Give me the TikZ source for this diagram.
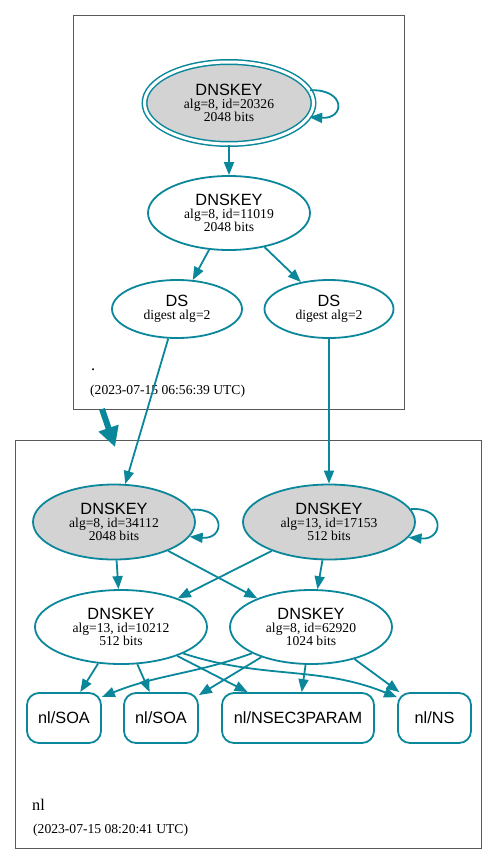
\documentclass[tikz,border=0pt]{standalone}
\usepackage{fontspec}
\setmainfont{Liberation Serif}
\setsansfont{Liberation Sans}
\usetikzlibrary{shapes.geometric,arrows.meta}

\definecolor{dnsteal}{HTML}{0A879A}
\definecolor{keygray}{HTML}{D3D3D3}
\newcommand{\keytitle}[1]{{\sffamily\fontsize{16.3}{13}\selectfont #1}}

\tikzset{
	keynode/.style={ellipse,draw=dnsteal,line width=1.8pt,inner sep=0pt,align=center,font=\fontsize{13.6}{13}\selectfont},
	sepkey/.style={fill=keygray},
	rrnode/.style={rectangle,rounded corners=12pt,draw=dnsteal,line width=1.8pt,inner sep=0pt,minimum height=50pt,font=\sffamily\fontsize{16.3}{18}\selectfont},
	edge/.style={draw=dnsteal,line width=1.8pt,-{Triangle[length=13pt,width=10pt]}},
	delegation/.style={draw=dnsteal,line width=6pt,-{Triangle[length=20pt,width=20pt]}},
	cluster/.style={draw=black!65,line width=1pt},
	zonelabel/.style={anchor=base west,inner sep=0pt,font=\fontsize{16.3}{18}\selectfont},
	zonedate/.style={anchor=base west,inner sep=0pt,font=\fontsize{13.6}{16}\selectfont}
}

\begin{document}
\begin{tikzpicture}[x=1pt,y=-1pt]
	\useasboundingbox (0,0) rectangle (497,865);

	%zone boxes
	\draw[cluster] (73,15) rectangle (404,409); %root zone
	\draw[cluster] (15,440) rectangle (481,848); %nl zone

	%root zone-----------------------------------------------
	\node[keynode,sepkey,double=white,line width=1.5pt,double distance=3pt,minimum width=169pt,minimum height=82pt] (k20326) at (229,103) {\keytitle{DNSKEY}\\alg=8, id=20326\\2048 bits}; %KSK
	\node[keynode,minimum width=162pt,minimum height=74pt] (k11019) at (229,213) {\keytitle{DNSKEY}\\alg=8, id=11019\\2048 bits}; %ZSK
	\node[keynode,minimum width=130pt,minimum height=58pt] (ds1) at (177,309) {\keytitle{DS}\\digest alg=2}; %DS 1
	\node[keynode,minimum width=129pt,minimum height=58pt] (ds2) at (329,309) {\keytitle{DS}\\digest alg=2}; %DS 2
	\node[zonelabel] (rootname) at (91,370) {.}; %zone name
	\node[zonedate] (rootdate) at (90,394) {(2023-07-15 06:56:39 UTC)}; %zone date

	\draw[edge] (k20326.9) .. controls +(36,-1) and +(36,2) .. (k20326.-10); %self loop
	\draw[edge] (k20326) -- (k11019);
	\draw[edge] (k11019) -- (ds1);
	\draw[edge] (k11019) -- (ds2);

	%nl zone-------------------------------------------------
	\node[keynode,sepkey,minimum width=162pt,minimum height=75pt] (k34112) at (114,522) {\keytitle{DNSKEY}\\alg=8, id=34112\\2048 bits}; %KSK 1
	\node[keynode,sepkey,minimum width=172pt,minimum height=75pt] (k17153) at (329,522) {\keytitle{DNSKEY}\\alg=13, id=17153\\512 bits}; %KSK 2
	\node[keynode,minimum width=172pt,minimum height=74pt] (k10212) at (121,627) {\keytitle{DNSKEY}\\alg=13, id=10212\\512 bits}; %ZSK 1
	\node[keynode,minimum width=162pt,minimum height=74pt] (k62920) at (311,627) {\keytitle{DNSKEY}\\alg=8, id=62920\\1024 bits}; %ZSK 2

		%records
		\node[rrnode,minimum width=74pt] (soa1) at (64,718) {nl/SOA};
		\node[rrnode,minimum width=74pt] (soa2) at (161,718) {nl/SOA};
		\node[rrnode,minimum width=152pt] (nsec3param) at (298,718) {nl/NSEC3PARAM};
		\node[rrnode,minimum width=73pt] (ns) at (434.5,718) {nl/NS};

	\node[zonelabel] (nlname) at (32,810) {nl}; %zone name
	\node[zonedate] (nldate) at (33,833) {(2023-07-15 08:20:41 UTC)}; %zone date

	%delegation
	\draw[edge] (ds1) -- (k34112);
	\draw[edge] (ds2) -- (k17153);
	\coordinate (rootexit) at (102,409);
	\coordinate (nlentry) at (115,447);
	\draw[delegation] (rootexit) -- (nlentry); %zone arrow

	%key signatures
	\draw[edge] (k34112.9) .. controls +(35,-2) and +(35,3) .. (k34112.-11); %self loop 1
	\draw[edge] (k17153.9) .. controls +(35,-2) and +(35,3) .. (k17153.-11); %self loop 2
	\draw[edge] (k34112) -- (k10212);
	\draw[edge] (k34112) -- (k62920);
	\draw[edge] (k17153) -- (k10212);
	\draw[edge] (k17153) -- (k62920);

	%record signatures
	\draw[edge] (k10212) -- (soa1);
	\draw[edge] (k10212) -- (soa2);
	\draw[edge] (k10212) -- (nsec3param);
	\draw[edge] (k10212.-23) to[out=-18,in=158] (ns.151);
	\draw[edge] (k62920.204) to[out=200,in=22] (soa1.29);
	\draw[edge] (k62920) -- (soa2);
	\draw[edge] (k62920) -- (nsec3param);
	\draw[edge] (k62920) -- (ns);

\end{tikzpicture}
\end{document}
